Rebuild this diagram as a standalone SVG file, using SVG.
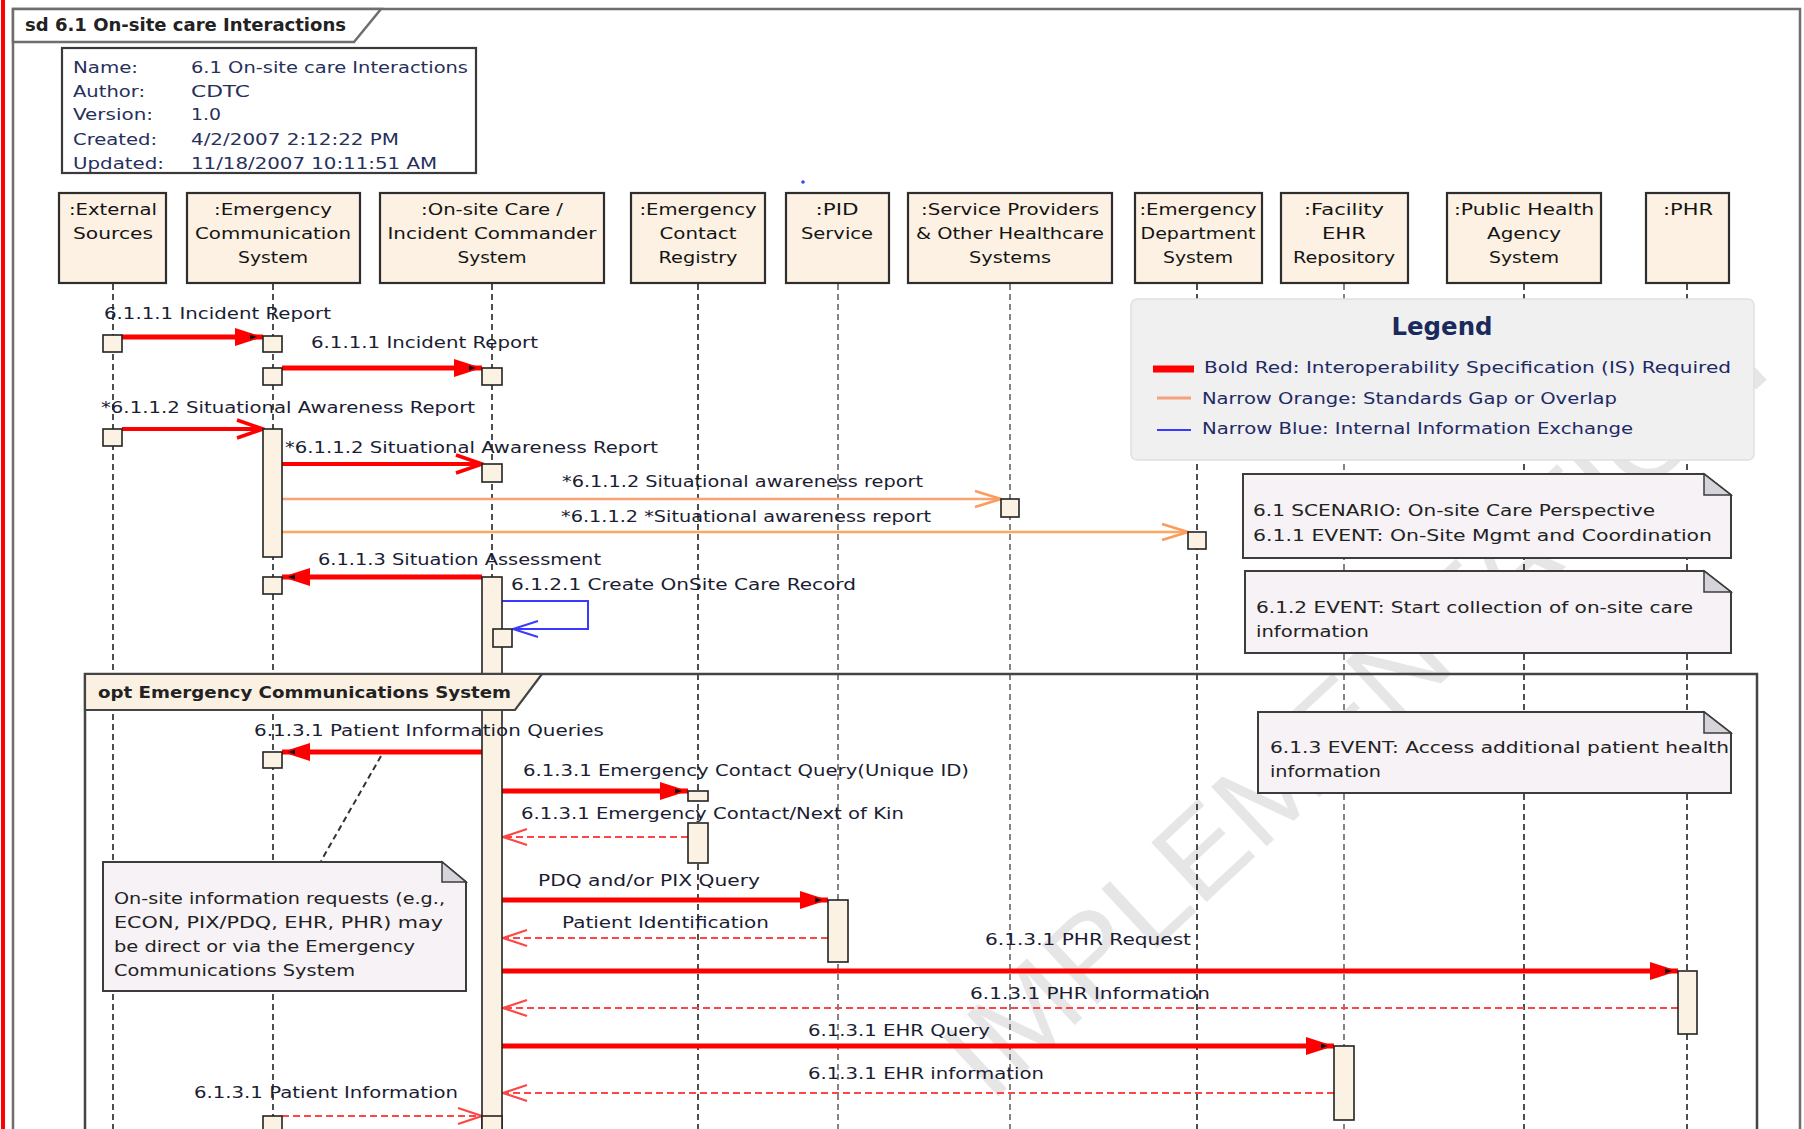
<svg xmlns="http://www.w3.org/2000/svg" width="1804" height="1129" viewBox="0 0 1804 1129">
  <style>
    text { font-family: "DejaVu Sans", Verdana, sans-serif; }
    .lbl { font-size: 15.5px; fill: #1b1d33; }
    .head { font-size: 16px; fill: #141414; text-anchor: middle; }
    .info { font-size: 16px; fill: #27305a; }
    .legend { font-size: 15.5px; fill: #1e2a66; }
    .note-t { font-size: 15.5px; fill: #222; }
    .wm { font-family: "Liberation Sans", Arial, sans-serif; font-size: 118px; fill: #e6e6e6; }
    .hbox { fill: #fcf1e2; stroke: #2e2e2e; stroke-width: 2.2; }
    .life { stroke: #222; stroke-width: 1.6; stroke-dasharray: 6 4; fill: none; }
    .life.g { stroke: #666; }
    .act { fill: #fbf2e4; stroke: #222; stroke-width: 1.6; }
    .sync { stroke: #ff0000; stroke-width: 5; fill: none; marker-end: url(#filled); }
    .async { stroke: #ff0000; stroke-width: 4; fill: none; marker-end: url(#openRed); }
    .ret { stroke: #ff4646; stroke-width: 2.2; stroke-dasharray: 7 4; fill: none; marker-end: url(#openRet); }
    .orange { stroke: #f9a274; stroke-width: 2.5; fill: none; marker-end: url(#openOrange); }
    .orange2 { stroke: #fda95c; stroke-width: 2.5; fill: none; marker-end: url(#openOrange); }
    .self { stroke: #3a3aff; stroke-width: 2; fill: none; marker-end: url(#openBlue); }
    .note { fill: #f6f2f6; stroke: #3c3c3c; stroke-width: 2; }
    .fold { fill: #d6d3da; stroke: #3c3c3c; stroke-width: 1.5; }
  </style>
  <defs>
    <marker id="filled" markerUnits="userSpaceOnUse" viewBox="0 0 28 18" refX="28" refY="9" markerWidth="28" markerHeight="18" orient="auto">
      <path d="M0,0 L28,9 L0,18 Z" fill="#ff0000"/>
      <path d="M15,6.5 L22,9 L15,11.5 Z" fill="#111"/>
    </marker>
    <marker id="openRed" markerUnits="userSpaceOnUse" viewBox="-2 -2 30 22" refX="26" refY="9" markerWidth="30" markerHeight="22" orient="auto">
      <path d="M0,0 L26,9 L0,18" fill="none" stroke="#ff0000" stroke-width="3.5"/>
    </marker>
    <marker id="openRet" markerUnits="userSpaceOnUse" viewBox="-2 -2 28 20" refX="24" refY="8" markerWidth="28" markerHeight="20" orient="auto">
      <path d="M0,0 L24,8 L0,16" fill="none" stroke="#ff4646" stroke-width="2.2"/>
    </marker>
    <marker id="openOrange" markerUnits="userSpaceOnUse" viewBox="-2 -2 30 20" refX="26" refY="8" markerWidth="30" markerHeight="20" orient="auto">
      <path d="M0,0 L26,8 L0,16" fill="none" stroke="#fb9c5c" stroke-width="2.5"/>
    </marker>
    <marker id="openBlue" markerUnits="userSpaceOnUse" viewBox="-2 -2 28 20" refX="25" refY="8" markerWidth="28" markerHeight="20" orient="auto">
      <path d="M0,0 L25,8 L0,16" fill="none" stroke="#3a3aff" stroke-width="2"/>
    </marker>
  </defs>

  <rect width="1804" height="1129" fill="#ffffff"/>

  <!-- background stamp -->
  <text class="wm" transform="translate(990,1104) rotate(-43)" textLength="1072" lengthAdjust="spacingAndGlyphs">IMPLEMENTATION</text>

  <!-- page edge and diagram frame -->
  <rect x="1" y="0" width="4" height="1129" fill="#ff0000"/>
  <path d="M13,1140 V9 H1800 V1140" fill="none" stroke="#6e6e6e" stroke-width="2.5"/>
  <g id="frame-title">
    <polygon points="13,9 381,9 354,42 13,42" fill="#ffffff" stroke="#6e6e6e" stroke-width="2.5"/>
    <text x="25" y="31" font-family="Liberation Sans, Arial, sans-serif" font-size="17" font-weight="bold" fill="#222" textLength="321" lengthAdjust="spacingAndGlyphs">sd 6.1 On-site care Interactions</text>
  </g>

  <!-- diagram properties -->
  <g id="info">
    <rect x="62" y="48" width="414" height="125" fill="#ffffff" stroke="#3a3a3a" stroke-width="2.2"/>
    <text class="info" x="73" y="73" textLength="65" lengthAdjust="spacingAndGlyphs">Name:</text>
    <text class="info" x="73" y="97" textLength="72" lengthAdjust="spacingAndGlyphs">Author:</text>
    <text class="info" x="73" y="120" textLength="80" lengthAdjust="spacingAndGlyphs">Version:</text>
    <text class="info" x="73" y="145" textLength="84" lengthAdjust="spacingAndGlyphs">Created:</text>
    <text class="info" x="73" y="169" textLength="91" lengthAdjust="spacingAndGlyphs">Updated:</text>
    <text class="info" x="191" y="73" textLength="277" lengthAdjust="spacingAndGlyphs">6.1 On-site care Interactions</text>
    <text class="info" x="191" y="97" textLength="59" lengthAdjust="spacingAndGlyphs">CDTC</text>
    <text class="info" x="191" y="120" textLength="30" lengthAdjust="spacingAndGlyphs">1.0</text>
    <text class="info" x="191" y="145" textLength="208" lengthAdjust="spacingAndGlyphs">4/2/2007 2:12:22 PM</text>
    <text class="info" x="191" y="169" textLength="246" lengthAdjust="spacingAndGlyphs">11/18/2007 10:11:51 AM</text>
  </g>

  <circle cx="803" cy="182" r="1.8" fill="#3344ff"/>

  <!-- lifelines -->
  <g id="lifelines">
    <line class="life" x1="113" y1="284" x2="113" y2="1129"/>
    <line class="life" x1="273" y1="284" x2="273" y2="1129"/>
    <line class="life" x1="492" y1="284" x2="492" y2="1129"/>
    <line class="life" x1="698" y1="284" x2="698" y2="1129"/>
    <line class="life g" x1="838" y1="284" x2="838" y2="1129"/>
    <line class="life g" x1="1010" y1="284" x2="1010" y2="1129"/>
    <line class="life" x1="1197" y1="284" x2="1197" y2="1129"/>
    <line class="life g" x1="1344" y1="284" x2="1344" y2="1129"/>
    <line class="life" x1="1524" y1="284" x2="1524" y2="1129"/>
    <line class="life" x1="1687" y1="284" x2="1687" y2="1129"/>
  </g>

  <!-- lifeline heads -->
  <g id="external-sources">
    <rect class="hbox" x="59" y="193" width="107" height="90"/>
    <text class="head" x="113" y="215" textLength="88" lengthAdjust="spacingAndGlyphs">:External</text>
    <text class="head" x="113" y="239" textLength="80" lengthAdjust="spacingAndGlyphs">Sources</text>
  </g>
  <g id="emergency-communication-system">
    <rect class="hbox" x="187" y="193" width="173" height="90"/>
    <text class="head" x="273" y="215" textLength="118" lengthAdjust="spacingAndGlyphs">:Emergency</text>
    <text class="head" x="273" y="239" textLength="156" lengthAdjust="spacingAndGlyphs">Communication</text>
    <text class="head" x="273" y="263" textLength="70" lengthAdjust="spacingAndGlyphs">System</text>
  </g>
  <g id="onsite-care">
    <rect class="hbox" x="380" y="193" width="224" height="90"/>
    <text class="head" x="492" y="215" textLength="142" lengthAdjust="spacingAndGlyphs">:On-site Care /</text>
    <text class="head" x="492" y="239" textLength="209" lengthAdjust="spacingAndGlyphs">Incident Commander</text>
    <text class="head" x="492" y="263" textLength="69" lengthAdjust="spacingAndGlyphs">System</text>
  </g>
  <g id="emergency-contact-registry">
    <rect class="hbox" x="631" y="193" width="134" height="90"/>
    <text class="head" x="698" y="215" textLength="117" lengthAdjust="spacingAndGlyphs">:Emergency</text>
    <text class="head" x="698" y="239" textLength="77" lengthAdjust="spacingAndGlyphs">Contact</text>
    <text class="head" x="698" y="263" textLength="79" lengthAdjust="spacingAndGlyphs">Registry</text>
  </g>
  <g id="pid-service">
    <rect class="hbox" x="786" y="193" width="103" height="90"/>
    <text class="head" x="837" y="215" textLength="43" lengthAdjust="spacingAndGlyphs">:PID</text>
    <text class="head" x="837" y="239" textLength="72" lengthAdjust="spacingAndGlyphs">Service</text>
  </g>
  <g id="service-providers">
    <rect class="hbox" x="908" y="193" width="204" height="90"/>
    <text class="head" x="1010" y="215" textLength="178" lengthAdjust="spacingAndGlyphs">:Service Providers</text>
    <text class="head" x="1010" y="239" textLength="188" lengthAdjust="spacingAndGlyphs">&amp; Other Healthcare</text>
    <text class="head" x="1010" y="263" textLength="82" lengthAdjust="spacingAndGlyphs">Systems</text>
  </g>
  <g id="emergency-department">
    <rect class="hbox" x="1135" y="193" width="127" height="90"/>
    <text class="head" x="1198" y="215" textLength="117" lengthAdjust="spacingAndGlyphs">:Emergency</text>
    <text class="head" x="1198" y="239" textLength="115" lengthAdjust="spacingAndGlyphs">Department</text>
    <text class="head" x="1198" y="263" textLength="70" lengthAdjust="spacingAndGlyphs">System</text>
  </g>
  <g id="facility-ehr">
    <rect class="hbox" x="1281" y="193" width="127" height="90"/>
    <text class="head" x="1344" y="215" textLength="80" lengthAdjust="spacingAndGlyphs">:Facility</text>
    <text class="head" x="1344" y="239" textLength="44" lengthAdjust="spacingAndGlyphs">EHR</text>
    <text class="head" x="1344" y="263" textLength="102" lengthAdjust="spacingAndGlyphs">Repository</text>
  </g>
  <g id="public-health-agency">
    <rect class="hbox" x="1447" y="193" width="154" height="90"/>
    <text class="head" x="1524" y="215" textLength="140" lengthAdjust="spacingAndGlyphs">:Public Health</text>
    <text class="head" x="1524" y="239" textLength="74" lengthAdjust="spacingAndGlyphs">Agency</text>
    <text class="head" x="1524" y="263" textLength="70" lengthAdjust="spacingAndGlyphs">System</text>
  </g>
  <g id="phr">
    <rect class="hbox" x="1646" y="193" width="83" height="90"/>
    <text class="head" x="1688" y="215" textLength="50" lengthAdjust="spacingAndGlyphs">:PHR</text>
  </g>

  <!-- legend -->
  <g id="legend">
    <rect x="1131" y="299" width="623" height="161" rx="6" fill="#f0f0f0" stroke="#e0e0e0" stroke-width="1.5"/>
    <text x="1442" y="335" font-family="Liberation Sans, Arial, sans-serif" font-size="25" font-weight="bold" fill="#1a2a5c" text-anchor="middle" textLength="101" lengthAdjust="spacingAndGlyphs">Legend</text>
    <line x1="1153" y1="369" x2="1194" y2="369" stroke="#ff0000" stroke-width="7"/>
    <text class="legend" x="1204" y="373" textLength="527" lengthAdjust="spacingAndGlyphs">Bold Red: Interoperability Specification (IS) Required</text>
    <line x1="1157" y1="398" x2="1191" y2="398" stroke="#f4a27e" stroke-width="3"/>
    <text class="legend" x="1202" y="404" textLength="415" lengthAdjust="spacingAndGlyphs">Narrow Orange: Standards Gap or Overlap</text>
    <line x1="1157" y1="430" x2="1191" y2="430" stroke="#3a3aff" stroke-width="2"/>
    <text class="legend" x="1202" y="434" textLength="431" lengthAdjust="spacingAndGlyphs">Narrow Blue: Internal Information Exchange</text>
  </g>

  <!-- notes -->
  <g id="note-scenario">
    <polygon class="note" points="1243,474 1704,474 1731,495 1731,558 1243,558"/>
    <polygon class="fold" points="1704,474 1704,495 1731,495"/>
    <text class="note-t" x="1253" y="516" textLength="402" lengthAdjust="spacingAndGlyphs">6.1 SCENARIO: On-site Care Perspective</text>
    <text class="note-t" x="1253" y="541" textLength="459" lengthAdjust="spacingAndGlyphs">6.1.1 EVENT: On-Site Mgmt and Coordination</text>
  </g>
  <g id="note-event-612">
    <polygon class="note" points="1245,571 1704,571 1731,592 1731,653 1245,653"/>
    <polygon class="fold" points="1704,571 1704,592 1731,592"/>
    <text class="note-t" x="1256" y="613" textLength="437" lengthAdjust="spacingAndGlyphs">6.1.2 EVENT: Start collection of on-site care</text>
    <text class="note-t" x="1256" y="637" textLength="113" lengthAdjust="spacingAndGlyphs">information</text>
  </g>

  <g id="note-event-613">
    <polygon class="note" points="1258,712 1704,712 1731,733 1731,793 1258,793"/>
    <polygon class="fold" points="1704,712 1704,733 1731,733"/>
    <text class="note-t" x="1270" y="753" textLength="459" lengthAdjust="spacingAndGlyphs">6.1.3 EVENT: Access additional patient health</text>
    <text class="note-t" x="1270" y="777" textLength="111" lengthAdjust="spacingAndGlyphs">information</text>
  </g>

  <g id="note-onsite-requests">
    <polygon class="note" points="103,862 442,862 466,882 466,991 103,991"/>
    <polygon class="fold" points="442,862 442,882 466,882"/>
    <text class="note-t" x="114" y="904" textLength="331" lengthAdjust="spacingAndGlyphs">On-site information requests (e.g.,</text>
    <text class="note-t" x="114" y="928" textLength="329" lengthAdjust="spacingAndGlyphs">ECON, PIX/PDQ, EHR, PHR) may</text>
    <text class="note-t" x="114" y="952" textLength="301" lengthAdjust="spacingAndGlyphs">be direct or via the Emergency</text>
    <text class="note-t" x="114" y="976" textLength="241" lengthAdjust="spacingAndGlyphs">Communications System</text>
  </g>

  <!-- messages -->
  <g id="connectors">
    <line x1="381" y1="756" x2="321" y2="861" stroke="#333" stroke-width="2" stroke-dasharray="6 4"/>

    <line class="sync" x1="122" y1="337" x2="263" y2="337"/>
    <line class="sync" x1="282" y1="368" x2="482" y2="368"/>
    <line class="async" x1="122" y1="429" x2="263" y2="429"/>
    <line class="async" x1="282" y1="464" x2="482" y2="464"/>
    <line class="orange" x1="282" y1="499" x2="1001" y2="499"/>
    <line class="orange2" x1="282" y1="532" x2="1188" y2="532"/>
    <line class="sync" x1="482" y1="577" x2="282" y2="577"/>
    <polyline class="self" points="502,601 588,601 588,629 513,629"/>
    <line class="sync" x1="482" y1="752" x2="282" y2="752"/>
    <line class="sync" x1="502" y1="791" x2="688" y2="791"/>
    <line class="ret" x1="688" y1="837" x2="503" y2="837"/>
    <line class="sync" x1="502" y1="900" x2="828" y2="900"/>
    <line class="ret" x1="828" y1="938" x2="503" y2="938"/>
    <line class="sync" x1="502" y1="971" x2="1678" y2="971"/>
    <line class="ret" x1="1678" y1="1008" x2="503" y2="1008"/>
    <line class="sync" x1="502" y1="1046" x2="1334" y2="1046"/>
    <line class="ret" x1="1334" y1="1093" x2="503" y2="1093"/>
    <line class="ret" x1="282" y1="1116" x2="482" y2="1116"/>
  </g>

  <!-- activations -->
  <g id="activations">
    <rect class="act" x="103" y="335" width="19" height="17"/>
    <rect class="act" x="263" y="336" width="19" height="16"/>
    <rect class="act" x="263" y="368" width="19" height="17"/>
    <rect class="act" x="482" y="368" width="20" height="17"/>
    <rect class="act" x="103" y="429" width="19" height="17"/>
    <rect class="act" x="263" y="429" width="19" height="128"/>
    <rect class="act" x="482" y="464" width="20" height="18"/>
    <rect class="act" x="1001" y="499" width="18" height="18"/>
    <rect class="act" x="1188" y="532" width="18" height="17"/>
    <rect class="act" x="263" y="577" width="19" height="17"/>
    <rect class="act" x="482" y="577" width="20" height="570"/>
    <rect class="act" x="493" y="629" width="19" height="18"/>
    <rect class="act" x="263" y="752" width="19" height="16"/>
    <rect class="act" x="688" y="791" width="20" height="10"/>
    <rect class="act" x="688" y="823" width="20" height="40"/>
    <rect class="act" x="828" y="900" width="20" height="62"/>
    <rect class="act" x="1678" y="971" width="19" height="63"/>
    <rect class="act" x="1334" y="1046" width="20" height="74"/>
    <rect class="act" x="263" y="1116" width="19" height="30"/>
    <rect class="act" x="482" y="1116" width="20" height="30"/>
  </g>

  <!-- opt combined fragment -->
  <g id="opt-fragment">
    <rect x="85" y="674" width="1672" height="470" fill="none" stroke="#444" stroke-width="2.5"/>
    <polygon points="85,674 542,674 515,710 85,710" fill="#fbf1e3" stroke="#444" stroke-width="2.2"/>
    <text x="98" y="698" font-family="Liberation Sans, Arial, sans-serif" font-size="16" font-weight="bold" fill="#222" textLength="413" lengthAdjust="spacingAndGlyphs">opt Emergency Communications System</text>
  </g>

  <!-- message labels -->
  <g id="message-labels">
    <text class="lbl" x="104" y="319" textLength="227" lengthAdjust="spacingAndGlyphs">6.1.1.1 Incident Report</text>
    <text class="lbl" x="311" y="348" textLength="227" lengthAdjust="spacingAndGlyphs">6.1.1.1 Incident Report</text>
    <text class="lbl" x="101" y="413" textLength="374" lengthAdjust="spacingAndGlyphs">*6.1.1.2 Situational Awareness Report</text>
    <text class="lbl" x="285" y="453" textLength="373" lengthAdjust="spacingAndGlyphs">*6.1.1.2 Situational Awareness Report</text>
    <text class="lbl" x="562" y="487" textLength="361" lengthAdjust="spacingAndGlyphs">*6.1.1.2 Situational awareness report</text>
    <text class="lbl" x="561" y="522" textLength="370" lengthAdjust="spacingAndGlyphs">*6.1.1.2 *Situational awareness report</text>
    <text class="lbl" x="318" y="565" textLength="283" lengthAdjust="spacingAndGlyphs">6.1.1.3 Situation Assessment</text>
    <text class="lbl" x="511" y="590" textLength="345" lengthAdjust="spacingAndGlyphs">6.1.2.1 Create OnSite Care Record</text>
    <text class="lbl" x="254" y="736" textLength="350" lengthAdjust="spacingAndGlyphs">6.1.3.1 Patient Information Queries</text>
    <text class="lbl" x="523" y="776" textLength="446" lengthAdjust="spacingAndGlyphs">6.1.3.1 Emergency Contact Query(Unique ID)</text>
    <text class="lbl" x="521" y="819" textLength="383" lengthAdjust="spacingAndGlyphs">6.1.3.1 Emergency Contact/Next of Kin</text>
    <text class="lbl" x="538" y="886" textLength="222" lengthAdjust="spacingAndGlyphs">PDQ and/or PIX Query</text>
    <text class="lbl" x="562" y="928" textLength="207" lengthAdjust="spacingAndGlyphs">Patient Identification</text>
    <text class="lbl" x="985" y="945" textLength="206" lengthAdjust="spacingAndGlyphs">6.1.3.1 PHR Request</text>
    <text class="lbl" x="970" y="999" textLength="240" lengthAdjust="spacingAndGlyphs">6.1.3.1 PHR Information</text>
    <text class="lbl" x="808" y="1036" textLength="182" lengthAdjust="spacingAndGlyphs">6.1.3.1 EHR Query</text>
    <text class="lbl" x="808" y="1079" textLength="236" lengthAdjust="spacingAndGlyphs">6.1.3.1 EHR information</text>
    <text class="lbl" x="194" y="1098" textLength="264" lengthAdjust="spacingAndGlyphs">6.1.3.1 Patient Information</text>
  </g>
</svg>
